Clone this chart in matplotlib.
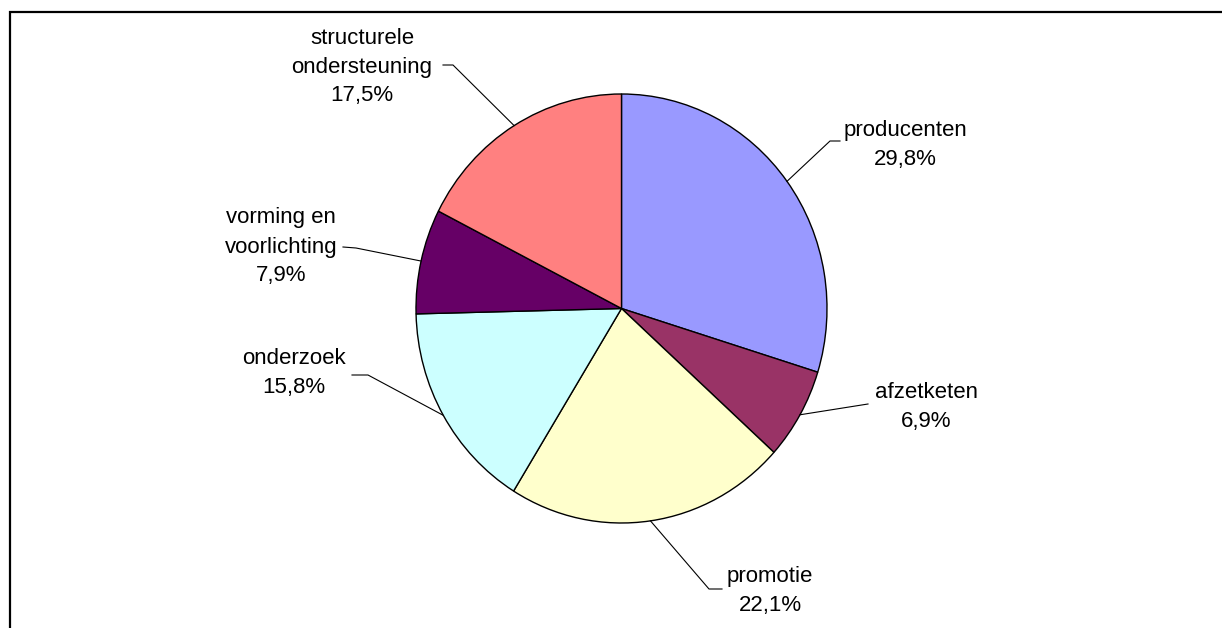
import numpy as np
import matplotlib
matplotlib.use("Agg")
import matplotlib.pyplot as plt
from matplotlib.patches import Rectangle

# data
labels = ["producenten", "afzetketen", "promotie", "onderzoek",
          "vorming en\nvoorlichting", "structurele\nondersteuning"]
shares = [29.8, 6.9, 22.1, 15.8, 7.9, 17.5]
colors = ["#9999FF", "#993366", "#FFFFCC", "#CCFFFF", "#660066", "#FF8080"]

W, H = 1222, 628
plt.rcParams['font.family'] = ['Liberation Sans', 'DejaVu Sans']

fig = plt.figure(figsize=(W / 100, H / 100), dpi=100)

# outer frame (left/top visible, rest runs off the picture)
fig.patches.append(Rectangle((10 / W, -0.1), 1.2, (H - 12) / H + 0.1,
                             transform=fig.transFigure, fill=False,
                             edgecolor="black", linewidth=1.6))

# pie area in pixels: x 416..827, y 94..523
ax = fig.add_axes([416 / W, (H - 523) / H, 411 / W, 429 / H])
wedges, _ = ax.pie(shares, colors=colors, startangle=90, counterclock=False,
                   wedgeprops=dict(edgecolor="black", linewidth=1.0))
ax.set_aspect("auto")
ax.set_xlim(-1, 1)
ax.set_ylim(-1, 1)
ax.axis("off")


def px(x, y):
    # pixel (from top-left) -> data coords of the pie axes
    return ax.transData.inverted().transform((x, H - y))


# text centre and leader path (pixels) for every label
text_pos = [(905, 145), (926, 407), (770, 591), (294, 373), (281, 247), (362, 67)]
leaders = [[(840, 141), (830, 141)],
           [(868, 404)],
           [(722, 589), (709, 589)],
           [(352, 375), (368, 375)],
           [(343, 247), (356, 248)],
           [(443, 65), (453, 65)]]

for w, lab, val, tp, path in zip(wedges, labels, shares, text_pos, leaders):
    mid = np.deg2rad((w.theta1 + w.theta2) / 2)
    ax_pt = (np.cos(mid), np.sin(mid))
    pts = [px(*p) for p in path] + [ax_pt]
    xs, ys = zip(*pts)
    ax.plot(xs, ys, color="black", linewidth=0.8, clip_on=False)
    tx, ty = px(*tp)
    txt = lab + "\n" + ("%.1f%%" % val).replace(".", ",")
    ax.text(tx, ty, txt, ha="center", va="center", fontsize=16,
            linespacing=1.5, multialignment="center", clip_on=False)

fig.savefig("out.png", dpi=100)
